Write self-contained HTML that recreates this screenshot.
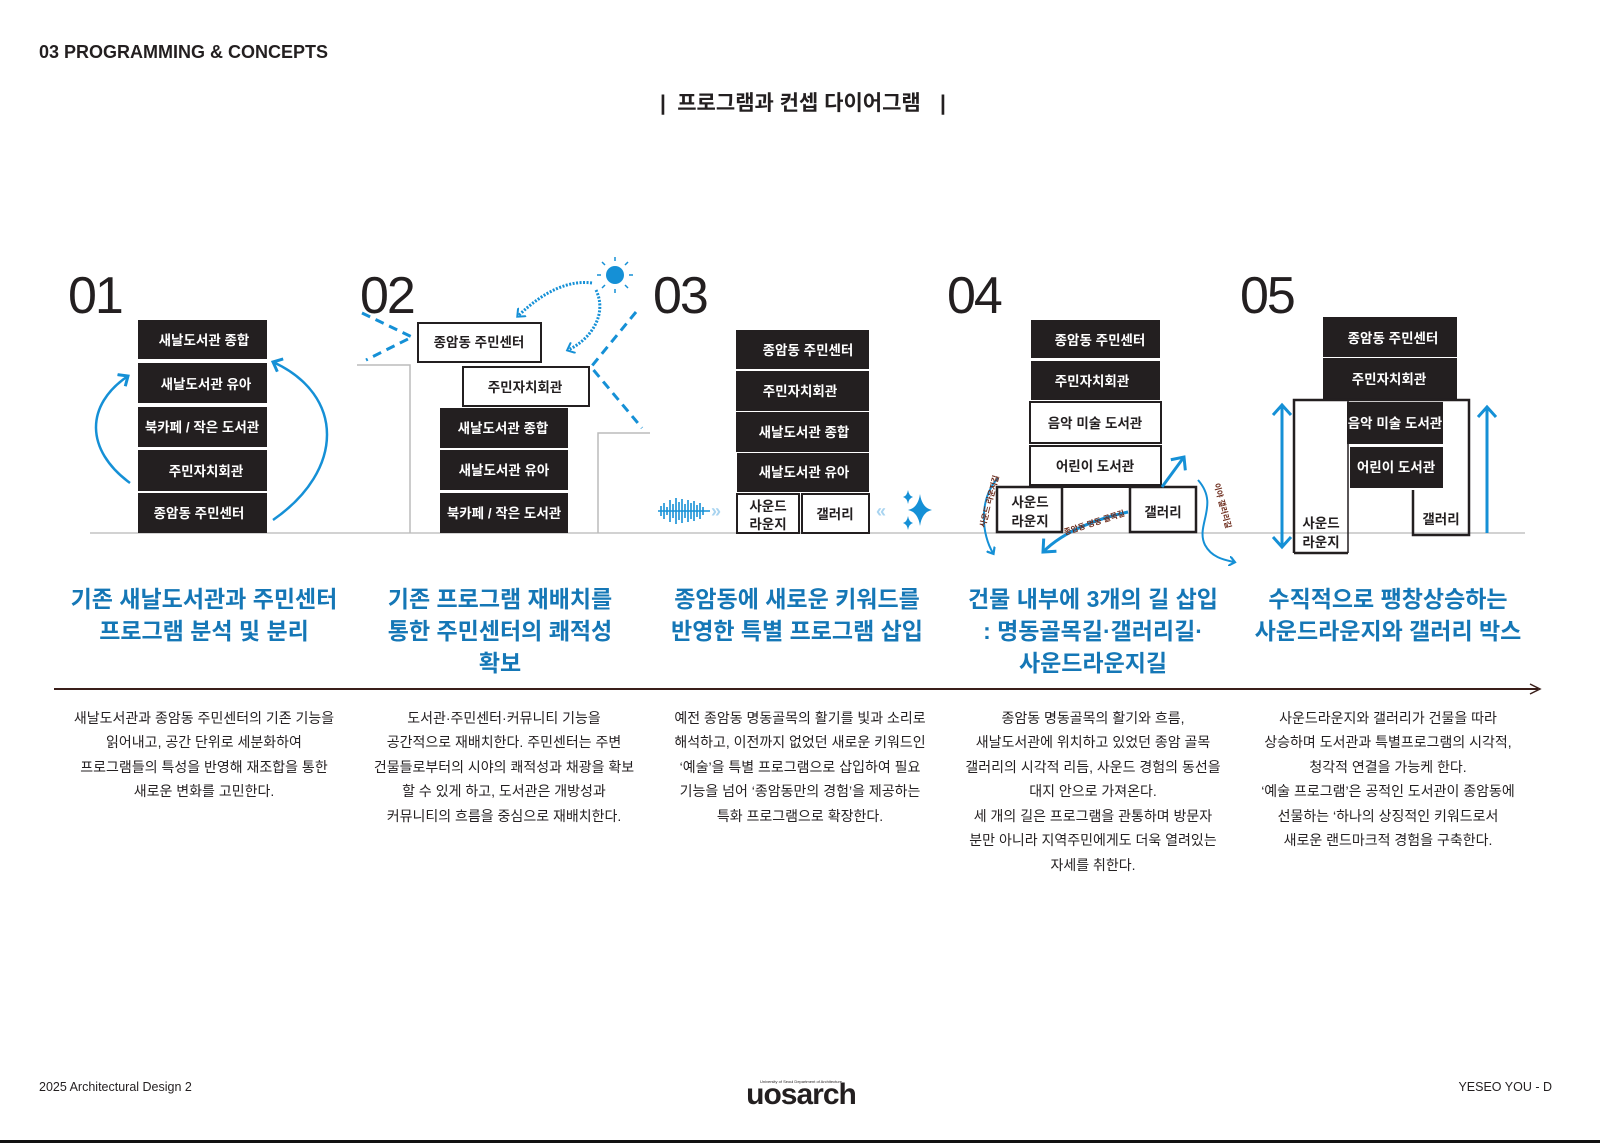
<!DOCTYPE html>
<html><head><meta charset="utf-8"><style>
html,body{margin:0;padding:0;background:#fff;}
svg{display:block;}
.k{font-family:"Liberation Sans","Noto Sans CJK KR",sans-serif;}
</style></head><body>
<svg width="1600" height="1143" viewBox="0 0 1600 1143" xmlns="http://www.w3.org/2000/svg" class="k">
<defs>
<marker id="ah" markerWidth="10" markerHeight="10" refX="5" refY="5" orient="auto" markerUnits="userSpaceOnUse" viewBox="0 0 10 10">
<path d="M0,0 L6,5 L0,10" fill="none" stroke="#1590d6" stroke-width="2.2"/></marker>
<marker id="ahb" markerWidth="16" markerHeight="16" refX="9" refY="8" orient="auto" markerUnits="userSpaceOnUse" viewBox="0 0 16 16">
<path d="M1,1 L9,8 L1,15" fill="none" stroke="#1590d6" stroke-width="3"/></marker>
<marker id="ahs" markerWidth="12" markerHeight="12" refX="6" refY="6" orient="auto-start-reverse" markerUnits="userSpaceOnUse" viewBox="0 0 12 12">
<path d="M0,0 L7,6 L0,12" fill="none" stroke="#1590d6" stroke-width="2"/></marker>
<marker id="ah2" markerWidth="20" markerHeight="20" refX="11" refY="10" orient="auto-start-reverse" markerUnits="userSpaceOnUse" viewBox="0 0 20 20">
<path d="M1,1 L11,10 L1,19" fill="none" stroke="#1590d6" stroke-width="3"/></marker>
</defs>

<!-- header -->
<text x="39" y="58" font-size="18" font-weight="bold" fill="#231f20">03 PROGRAMMING &amp; CONCEPTS</text>
<text x="660" y="110" font-size="21" font-weight="bold" fill="#231f20">|</text>
<text x="799" y="110" font-size="21" font-weight="bold" fill="#231f20" text-anchor="middle">프로그램과 컨셉 다이어그램</text>
<text x="940" y="110" font-size="21" font-weight="bold" fill="#231f20">|</text>

<!-- numbers -->
<g font-size="52" fill="#231f20" font-family="Liberation Sans,sans-serif" letter-spacing="-2">
<text x="68" y="313">01</text><text x="360" y="313">02</text><text x="653" y="313">03</text><text x="947" y="313">04</text><text x="1240" y="313">05</text>
</g>

<!-- ground line -->
<line x1="90" y1="533" x2="1525" y2="533" stroke="#c4c4c4" stroke-width="1.5"/>

<!-- 01 -->
<g fill="#231f20">
<rect x="138" y="320" width="129" height="39"/><rect x="138" y="363" width="129" height="40"/>
<rect x="138" y="407" width="129" height="40"/><rect x="138" y="450" width="129" height="41"/>
<rect x="138" y="493" width="129" height="40"/>
</g>
<g fill="#fff" font-size="13.5" text-anchor="middle" font-weight="bold">
<text x="204" y="345">새날도서관 종합</text><text x="206" y="389">새날도서관 유아</text>
<text x="202" y="432">북카페 / 작은 도서관</text><text x="206" y="476">주민자치회관</text>
<text x="199" y="518">종암동 주민센터</text>
</g>
<path d="M130,483 C85,450 85,405 128,376" fill="none" stroke="#1590d6" stroke-width="2.5" marker-end="url(#ahb)"/>
<path d="M273,520 C345,470 345,395 273,362" fill="none" stroke="#1590d6" stroke-width="2.5" marker-end="url(#ahb)"/>

<!-- 02 -->
<polyline points="357,365 410,365 410,533" fill="none" stroke="#bbb" stroke-width="1.5"/>
<polyline points="598,533 598,433 650,433" fill="none" stroke="#bbb" stroke-width="1.5"/>
<rect x="418" y="323" width="123" height="39" fill="#fff" stroke="#231f20" stroke-width="2"/>
<rect x="463" y="367" width="126" height="39" fill="#fff" stroke="#231f20" stroke-width="2"/>
<g fill="#231f20"><rect x="440" y="408" width="128" height="40"/><rect x="440" y="450" width="128" height="40"/><rect x="440" y="493" width="128" height="40"/></g>
<g font-size="13.5" text-anchor="middle" font-weight="bold">
<text x="479" y="347" fill="#231f20">종암동 주민센터</text><text x="525" y="392" fill="#231f20">주민자치회관</text>
<text x="503" y="433" fill="#fff">새날도서관 종합</text><text x="504" y="475" fill="#fff">새날도서관 유아</text>
<text x="504" y="518" fill="#fff">북카페 / 작은 도서관</text>
</g>
<polyline points="362,313 412,337 366,360" fill="none" stroke="#1590d6" stroke-width="3" stroke-dasharray="9,6"/>
<polyline points="636,312 591,367 642,428" fill="none" stroke="#1590d6" stroke-width="3" stroke-dasharray="9,6"/>
<circle cx="615" cy="275" r="9" fill="#1590d6"/>
<g stroke="#1590d6" stroke-width="1.5">
<line x1="615" y1="261" x2="615" y2="257"/><line x1="615" y1="289" x2="615" y2="293"/>
<line x1="601" y1="275" x2="597" y2="275"/><line x1="629" y1="275" x2="633" y2="275"/>
<line x1="605" y1="265" x2="602" y2="262"/><line x1="625" y1="285" x2="628" y2="288"/>
<line x1="625" y1="265" x2="628" y2="262"/><line x1="605" y1="285" x2="602" y2="288"/>
</g>
<path d="M592,283 C570,280 545,290 518,316" fill="none" stroke="#1590d6" stroke-width="3" stroke-dasharray="2,1.5" marker-end="url(#ahs)"/>
<path d="M596,290 C608,315 590,340 568,350" fill="none" stroke="#1590d6" stroke-width="3" stroke-dasharray="2,1.5" marker-end="url(#ahs)"/>

<!-- 03 -->
<g fill="#231f20">
<rect x="736" y="330" width="133" height="39"/><rect x="736" y="371" width="133" height="40"/>
<rect x="736" y="412" width="133" height="40"/><rect x="737" y="453" width="132" height="39"/>
</g>
<rect x="737" y="494" width="62" height="39" fill="#fff" stroke="#231f20" stroke-width="2"/>
<rect x="802" y="494" width="67" height="39" fill="#fff" stroke="#231f20" stroke-width="2"/>
<g font-size="13.5" text-anchor="middle" font-weight="bold">
<text x="808" y="355" fill="#fff">종암동 주민센터</text><text x="800" y="396" fill="#fff">주민자치회관</text>
<text x="804" y="437" fill="#fff">새날도서관 종합</text><text x="804" y="477" fill="#fff">새날도서관 유아</text>
<text x="768" y="511" fill="#231f20">사운드</text><text x="768" y="529" fill="#231f20">라운지</text>
<text x="835" y="519" fill="#231f20">갤러리</text>
</g>
<g stroke="#1590d6" stroke-width="1.6">
<line x1="658" y1="511" x2="710" y2="511"/>
<line x1="661" y1="506" x2="661" y2="516"/><line x1="664" y1="503" x2="664" y2="519"/><line x1="667" y1="507" x2="667" y2="515"/>
<line x1="670" y1="500" x2="670" y2="522"/><line x1="673" y1="504" x2="673" y2="518"/><line x1="676" y1="498" x2="676" y2="524"/>
<line x1="679" y1="502" x2="679" y2="520"/><line x1="682" y1="499" x2="682" y2="523"/><line x1="685" y1="504" x2="685" y2="518"/>
<line x1="688" y1="500" x2="688" y2="522"/><line x1="691" y1="503" x2="691" y2="519"/><line x1="694" y1="501" x2="694" y2="521"/>
<line x1="697" y1="505" x2="697" y2="517"/><line x1="700" y1="503" x2="700" y2="519"/><line x1="703" y1="507" x2="703" y2="515"/>
</g>
<text x="711" y="517" font-size="18" font-weight="bold" fill="#a9d4f0">»</text>
<text x="876" y="517" font-size="18" font-weight="bold" fill="#a9d4f0">«</text>
<path d="M920,494 Q922,508 932,510 Q922,512 920,526 Q918,512 908,510 Q918,508 920,494Z" fill="#1590d6"/>
<path d="M908,490 Q909,496 913,497 Q909,498 908,504 Q907,498 903,497 Q907,496 908,490Z" fill="#1590d6"/>
<path d="M908,516 Q909,522 913,523 Q909,524 908,530 Q907,524 903,523 Q907,522 908,516Z" fill="#1590d6"/>

<!-- 04 -->
<g fill="#231f20"><rect x="1031" y="320" width="129" height="38"/><rect x="1031" y="361" width="129" height="39"/></g>
<rect x="1030" y="402" width="131" height="41" fill="#fff" stroke="#231f20" stroke-width="2"/>
<rect x="1030" y="446" width="131" height="39" fill="#fff" stroke="#231f20" stroke-width="2"/>
<rect x="997" y="487" width="65" height="45" fill="#fff" stroke="#231f20" stroke-width="2.5"/>
<rect x="1130" y="487" width="66" height="45" fill="#fff" stroke="#231f20" stroke-width="2.5"/>
<line x1="1062" y1="487" x2="1130" y2="487" stroke="#231f20" stroke-width="2"/>
<g font-size="13.5" text-anchor="middle" font-weight="bold">
<text x="1100" y="345" fill="#fff">종암동 주민센터</text><text x="1092" y="386" fill="#fff">주민자치회관</text>
<text x="1095" y="428" fill="#231f20">음악 미술 도서관</text><text x="1095" y="471" fill="#231f20">어린이 도서관</text>
<text x="1030" y="507" fill="#231f20">사운드</text><text x="1030" y="526" fill="#231f20">라운지</text>
<text x="1163" y="517" fill="#231f20">갤러리</text>
</g>
<path d="M1128,512 C1100,518 1065,530 1043,552" fill="none" stroke="#1590d6" stroke-width="3" marker-end="url(#ah2)"/>
<line x1="1162" y1="487" x2="1184" y2="457" stroke="#1590d6" stroke-width="3" marker-end="url(#ah2)"/>
<path d="M998,478 C978,500 982,535 993,553" fill="none" stroke="#1590d6" stroke-width="2" marker-end="url(#ah)"/>
<path d="M1198,480 C1220,505 1195,525 1205,545 C1212,558 1225,560 1234,562" fill="none" stroke="#1590d6" stroke-width="2" marker-end="url(#ah)"/>
<g font-size="8" fill="#6b2a1a" font-weight="bold">
<text transform="translate(985,528) rotate(-75)">사운드 라운지길</text>
<text transform="translate(1065,535) rotate(-18)">종암동 명동 골목길</text>
<text transform="translate(1214,484) rotate(75)">이야 갤러리길</text>
</g>

<!-- 05 -->
<g fill="#231f20"><rect x="1323" y="317" width="134" height="40"/><rect x="1323" y="358" width="134" height="42"/></g>
<polyline points="1294,553 1294,400 1469,400 1469,535 1413,535 1413,490" fill="none" stroke="#231f20" stroke-width="2.5"/>
<line x1="1348" y1="400" x2="1348" y2="553" stroke="#231f20" stroke-width="1.5"/>
<line x1="1294" y1="553" x2="1348" y2="553" stroke="#231f20" stroke-width="2.5"/>
<g fill="#231f20"><rect x="1347" y="402" width="96" height="42"/><rect x="1350" y="447" width="93" height="41"/></g>
<g font-size="13.5" text-anchor="middle" font-weight="bold">
<text x="1393" y="343" fill="#fff">종암동 주민센터</text><text x="1389" y="384" fill="#fff">주민자치회관</text>
<text x="1395" y="428" fill="#fff">음악 미술 도서관</text><text x="1396" y="472" fill="#fff">어린이 도서관</text>
<text x="1321" y="528" fill="#231f20">사운드</text><text x="1321" y="547" fill="#231f20">라운지</text>
<text x="1441" y="524" fill="#231f20">갤러리</text>
</g>
<line x1="1282" y1="405" x2="1282" y2="547" stroke="#1590d6" stroke-width="3" marker-start="url(#ah2)" marker-end="url(#ah2)"/>
<line x1="1487" y1="533" x2="1487" y2="407" stroke="#1590d6" stroke-width="3" marker-end="url(#ah2)"/>

<!-- headings -->
<g font-size="23" font-weight="bold" fill="#1577b6" text-anchor="middle">
<text x="204" y="607">기존 새날도서관과 주민센터</text><text x="204" y="639">프로그램 분석 및 분리</text>
<text x="500" y="607">기존 프로그램 재배치를</text><text x="500" y="639">통한 주민센터의 쾌적성</text><text x="500" y="671">확보</text>
<text x="797" y="607">종암동에 새로운 키워드를</text><text x="797" y="639">반영한 특별 프로그램 삽입</text>
<text x="1093" y="607">건물 내부에 3개의 길 삽입</text><text x="1093" y="639">: 명동골목길·갤러리길·</text><text x="1093" y="671">사운드라운지길</text>
<text x="1388" y="607">수직적으로 팽창상승하는</text><text x="1388" y="639">사운드라운지와 갤러리 박스</text>
</g>

<!-- timeline arrow -->
<line x1="54" y1="689" x2="1538" y2="689" stroke="#3a1f1a" stroke-width="2"/>
<path d="M1530,684 L1540,689 L1530,694" fill="none" stroke="#3a1f1a" stroke-width="1.5"/>

<!-- body -->
<g font-size="14" fill="#231f20" text-anchor="middle">
<text x="204" y="723">새날도서관과 종암동 주민센터의 기존 기능을</text>
<text x="204" y="747">읽어내고, 공간 단위로 세분화하여</text>
<text x="204" y="772">프로그램들의 특성을 반영해 재조합을 통한</text>
<text x="204" y="796">새로운 변화를 고민한다.</text>

<text x="504" y="723">도서관·주민센터·커뮤니티 기능을</text>
<text x="504" y="747">공간적으로 재배치한다. 주민센터는 주변</text>
<text x="504" y="772">건물들로부터의 시야의 쾌적성과 채광을 확보</text>
<text x="504" y="796">할 수 있게 하고, 도서관은 개방성과</text>
<text x="504" y="821">커뮤니티의 흐름을 중심으로 재배치한다.</text>

<text x="800" y="723">예전 종암동 명동골목의 활기를 빛과 소리로</text>
<text x="800" y="747">해석하고, 이전까지 없었던 새로운 키워드인</text>
<text x="800" y="772">‘예술’을 특별 프로그램으로 삽입하여 필요</text>
<text x="800" y="796">기능을 넘어 ‘종암동만의 경험’을 제공하는</text>
<text x="800" y="821">특화 프로그램으로 확장한다.</text>

<text x="1093" y="723">종암동 명동골목의 활기와 흐름,</text>
<text x="1093" y="747">새날도서관에 위치하고 있었던 종암 골목</text>
<text x="1093" y="772">갤러리의 시각적 리듬, 사운드 경험의 동선을</text>
<text x="1093" y="796">대지 안으로 가져온다.</text>
<text x="1093" y="821">세 개의 길은 프로그램을 관통하며 방문자</text>
<text x="1093" y="845">분만 아니라 지역주민에게도 더욱 열려있는</text>
<text x="1093" y="870">자세를 취한다.</text>

<text x="1388" y="723">사운드라운지와 갤러리가 건물을 따라</text>
<text x="1388" y="747">상승하며 도서관과 특별프로그램의 시각적,</text>
<text x="1388" y="772">청각적 연결을 가능케 한다.</text>
<text x="1388" y="796">‘예술 프로그램’은 공적인 도서관이 종암동에</text>
<text x="1388" y="821">선물하는 ‘하나의 상징적인 키워드로서</text>
<text x="1388" y="845">새로운 랜드마크적 경험을 구축한다.</text>
</g>

<!-- footer -->
<text x="39" y="1091" font-size="12.5" fill="#231f20">2025 Architectural Design 2</text>
<text x="801" y="1083" font-size="4" fill="#231f20" text-anchor="middle">University of Seoul Department of Architecture</text>
<text x="801" y="1104" font-size="30" font-weight="bold" fill="#231f20" text-anchor="middle" letter-spacing="-1">uosarch</text>
<text x="1552" y="1091" font-size="12.5" fill="#231f20" text-anchor="end">YESEO YOU -   D</text>
<rect x="0" y="1140" width="1600" height="3" fill="#111"/>
</svg>
</body></html>
